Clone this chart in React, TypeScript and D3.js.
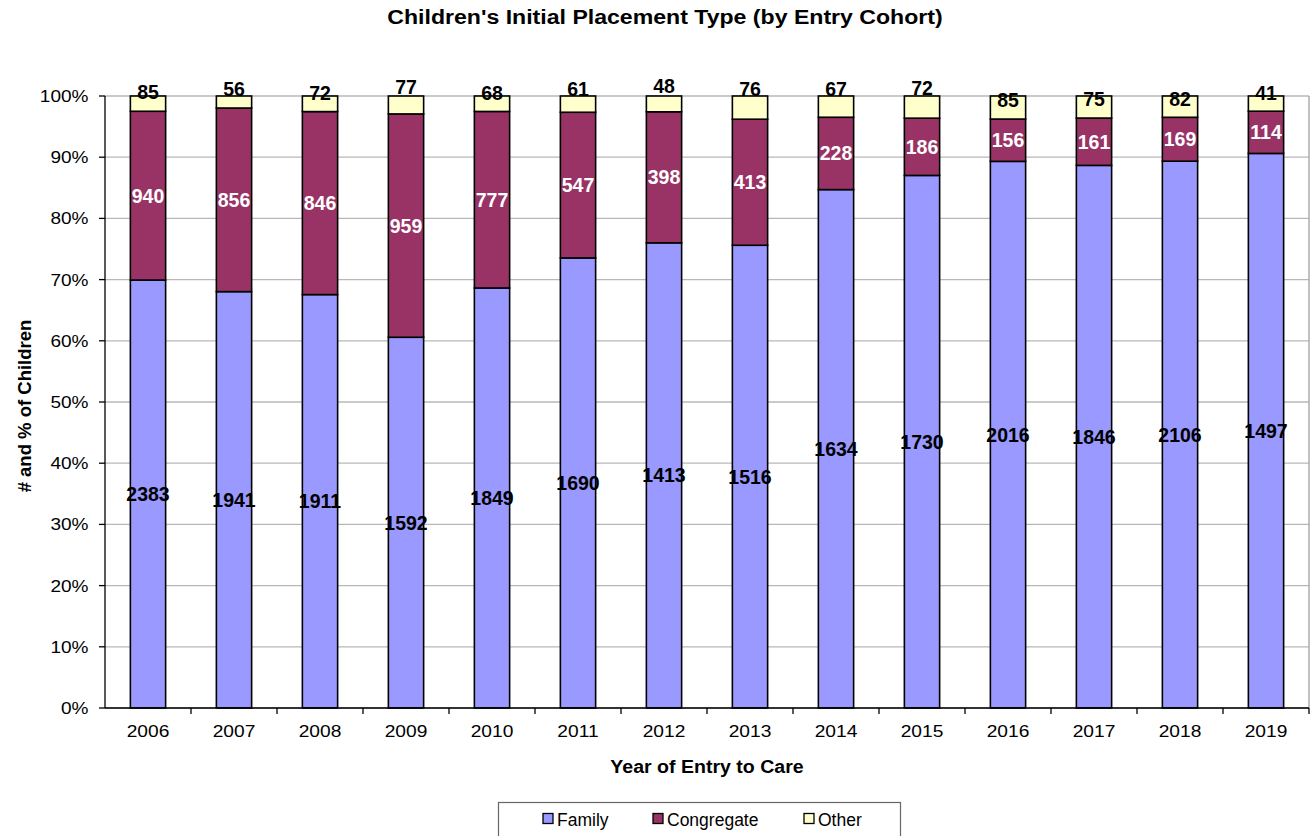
import React from "react";
import * as d3 from "d3";

const years = ["2006","2007","2008","2009","2010","2011","2012","2013","2014","2015","2016","2017","2018","2019"];
const family = [2383,1941,1911,1592,1849,1690,1413,1516,1634,1730,2016,1846,2106,1497];
const congregate = [940,856,846,959,777,547,398,413,228,186,156,161,169,114];
const other = [85,56,72,77,68,61,48,76,67,72,85,75,82,41];
const yTicks = [0,0.1,0.2,0.3,0.4,0.5,0.6,0.7,0.8,0.9,1.0];
const seriesNames = ["Family","Congregate","Other"];
const seriesColors = ["#9999FF","#993366","#FFFFCC"];
// manual nudges of "Other" labels (px, relative to bar top)
const otherLabelDy = [-4,-7,-3,-9,-3,-7,-10,-7,-7,-8,4,3,3,-3];

const W = 1316, H = 836;
const left = 105, right = 1309, top = 96, bottom = 708;
const font = "Liberation Sans, Arial, sans-serif";

function T({ x, y, sx = 1, size, anchor = "middle", bold = false, fill = "#000", children, rotate = 0 }: any) {
  return (
    <text transform={`translate(${x},${y}) rotate(${rotate}) scale(${sx},1)`} textAnchor={anchor}
      fontFamily={font} fontSize={size} fontWeight={bold ? "bold" : "normal"} fill={fill}>{children}</text>
  );
}

export default function App() {
  const x = d3.scaleBand().domain(years).range([left, right]).paddingInner(0.59).paddingOuter(0.295);
  const y = d3.scaleLinear().domain([0, 1]).range([bottom, top]);
  const rows = years.map((yr, i) => ({ year: yr, Family: family[i], Congregate: congregate[i], Other: other[i] }));
  const stack = d3.stack<any>().keys(seriesNames).offset(d3.stackOffsetExpand);
  const series = stack(rows);
  const bw = x.bandwidth();
  const step = x.step();
  const lblSize = 19.5;

  return (
    <svg width={W} height={H} style={{ position: "absolute", left: 0, top: 0, display: "block" }}>
      <rect x={0} y={0} width={W} height={H} fill="#fff" />
      <T x={665} y={23.5} size={21} sx={1.1} bold>Children's Initial Placement Type (by Entry Cohort)</T>
      {/* gridlines */}
      {yTicks.map((t) => (
        <line key={t} x1={left} x2={right} y1={y(t)} y2={y(t)} stroke="#b8b8b8" strokeWidth={1.3} />
      ))}
      <line x1={right} x2={right} y1={top} y2={bottom} stroke="#a0a0a0" strokeWidth={1.3} />
      {/* bars */}
      {series.map((s, si) =>
        s.map((d, i) => (
          <rect key={si + "-" + i} x={x(years[i])!} y={y(d[1])} width={bw} height={y(d[0]) - y(d[1])}
            fill={seriesColors[si]} stroke="#000" strokeWidth={1.6} />
        ))
      )}
      {/* labels */}
      {series.map((s, si) =>
        s.map((d, i) => {
          const cx = x(years[i])! + bw / 2;
          const val = [family, congregate, other][si][i];
          let cy = (y(d[0]) + y(d[1])) / 2;
          if (si === 2) cy = y(1) + otherLabelDy[i];
          return (
            <T key={"l" + si + "-" + i} x={cx} y={cy + 7} size={lblSize} bold fill={si === 1 ? "#fff" : "#000"}>{val}</T>
          );
        })
      )}
      {/* axes */}
      <line x1={left} x2={left} y1={top} y2={bottom} stroke="#000" strokeWidth={1.3} />
      <line x1={left} x2={right} y1={bottom} y2={bottom} stroke="#000" strokeWidth={1.3} />
      {yTicks.map((t) => (
        <g key={"yt" + t}>
          <line x1={left - 6} x2={left} y1={y(t)} y2={y(t)} stroke="#000" strokeWidth={1.3} />
          <T x={88.5} y={y(t) + 6} size={17} sx={1.12} anchor="end">{d3.format(".0%")(t)}</T>
        </g>
      ))}
      {years.map((yr, i) => (
        <g key={"xt" + yr}>
          <line x1={left + step * (i + 1)} x2={left + step * (i + 1)} y1={bottom} y2={bottom + 6} stroke="#000" strokeWidth={1.3} />
          <T x={x(yr)! + bw / 2} y={737} size={17} sx={1.13}>{yr}</T>
        </g>
      ))}
      <T x={707} y={772.5} size={19} sx={1.03} bold>Year of Entry to Care</T>
      <T x={31} y={406} size={18.5} bold rotate={-90}># and % of Children</T>
      {/* legend */}
      <rect x={498.5} y={802.5} width={402} height={50} fill="#fff" stroke="#666" strokeWidth={1.2} />
      {seriesNames.map((n, i) => {
        const lx = [543, 653, 804][i];
        return (
          <g key={"lg" + n}>
            <rect x={lx} y={813.5} width={10} height={10} fill={seriesColors[i]} stroke="#000" strokeWidth={1.3} />
            <T x={lx + 14} y={825.5} size={17.5} anchor="start">{n}</T>
          </g>
        );
      })}
    </svg>
  );
}
